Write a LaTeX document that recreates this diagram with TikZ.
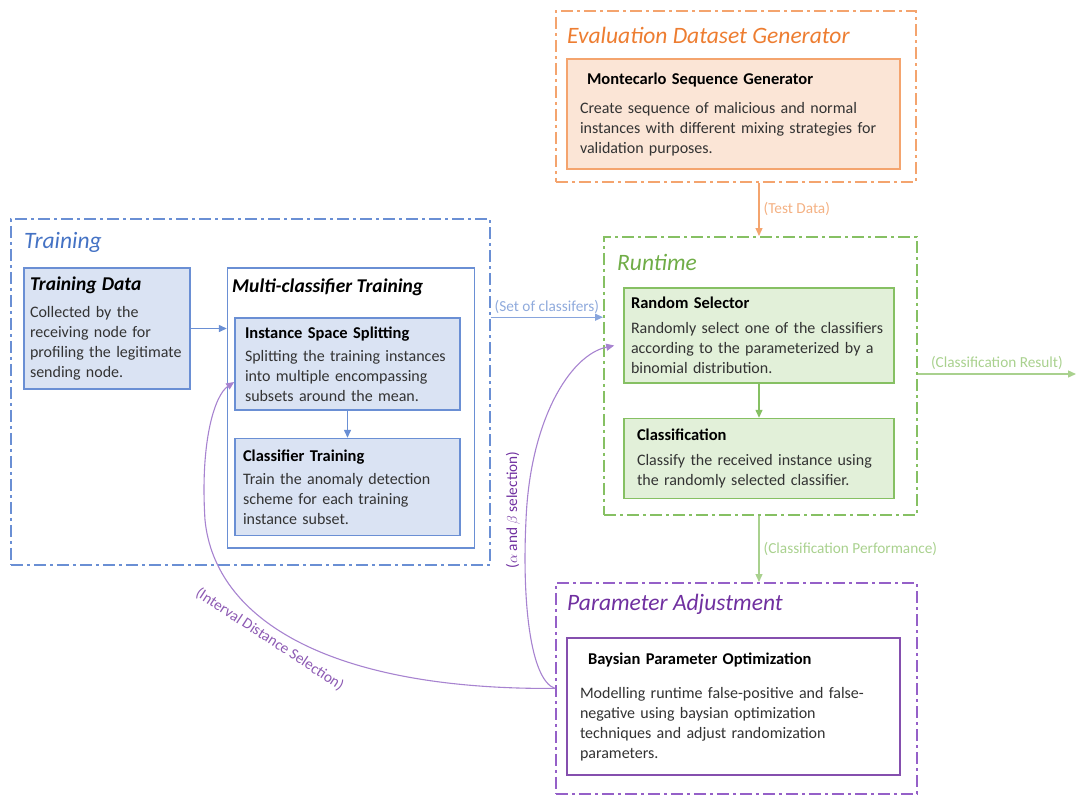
\documentclass[tikz,border=0pt]{standalone}
\usepackage{fontspec}
\setmainfont{Carlito}
\usepackage{xcolor}
\usepackage{tikz}
\usetikzlibrary{arrows.meta,positioning}

\definecolor{trnblue}{HTML}{4472C4}
\definecolor{trnline}{HTML}{6A8FD4}
\definecolor{trnfill}{HTML}{DAE3F3}
\definecolor{trnlbl}{HTML}{8FAADC}
\definecolor{evlorange}{HTML}{ED7D31}
\definecolor{evlline}{HTML}{F4A46E}
\definecolor{evlfill}{HTML}{FBE5D6}
\definecolor{evllbl}{HTML}{F4B183}
\definecolor{rungreen}{HTML}{70AD47}
\definecolor{runline}{HTML}{86C063}
\definecolor{runfill}{HTML}{E2F0D9}
\definecolor{runlbl}{HTML}{A9D18E}
\definecolor{parpurple}{HTML}{7030A0}
\definecolor{parline}{HTML}{9560C8}
\definecolor{parcurve}{HTML}{A783D0}
\definecolor{bodytxt}{HTML}{333333}

\tikzset{
  grp/.style   = {rectangle, line width=1.8pt, dash pattern=on 12pt off 4pt on 3pt off 4pt,
                  anchor=north west, inner sep=0pt},
  ttl/.style   = {anchor=west, inner sep=0pt, font=\fontsize{23.5}{26}\selectfont\itshape},
  blk/.style   = {rectangle, line width=1.6pt, align=left, text=bodytxt,
                  font=\fontsize{16}{20}\selectfont, inner ysep=3pt},
  blkb/.style  = {blk, draw=trnline, fill=trnfill},
  blkg/.style  = {blk, draw=runline, fill=runfill},
  blko/.style  = {blk, draw=evlline, fill=evlfill},
  blkp/.style  = {blk, draw=parpurple!85, fill=white, line width=2.4pt},
  fl/.style    = {-{Triangle[length=8pt,width=7pt]}, line width=1.3pt},
  lbl/.style   = {inner sep=2pt, font=\fontsize{15.3}{17}\selectfont},
}

\begin{document}
\begin{tikzpicture}[x=1pt, y=-1pt, node distance=27pt]
  \useasboundingbox (0,0) rectangle (1076,796);

  % evaluation data
  \node[grp, draw=evlline, minimum width=360pt, minimum height=171pt] (eval) at (555,10) {};
  \node[ttl, text=evlorange] (evalttl) at (567,35) {Evaluation Dataset Generator};
  \node[blko, text width=307pt, inner xsep=13pt, minimum height=110pt] (mcs) at (733.5,114)
    {\hspace*{7pt}\textcolor{black}{\fontsize{16.5}{20}\selectfont\bfseries Montecarlo Sequence Generator}\\[9pt]
     Create sequence of malicious and normal\\ instances with different mixing strategies for\\ validation purposes.};

  % training side
  \node[grp, draw=trnline, minimum width=479pt, minimum height=346pt] (train) at (10,218) {};
  \node[ttl, text=trnblue] (trainttl) at (24,242) {Training};
  \node[blkb, text width=154pt, inner xsep=6pt, minimum height=121pt] (tdata) at (107,328.5)
    {\textcolor{black}{\fontsize{19.5}{22}\selectfont\bfseries\itshape Training Data}\\[7pt]
     Collected by the\\ receiving node for\\ profiling the legitimate\\ sending node.};
  \node[blk, draw=trnline, fill=white, minimum width=247pt, minimum height=280pt,
        right=36pt of tdata.north east, anchor=north west] (multi) {};
  \node[anchor=west, inner sep=0pt, font=\fontsize{19.5}{22}\selectfont\bfseries\itshape]
    (multittl) at (232,287) {Multi-classifier Training};
  \node[blkb, text width=205pt, inner xsep=10pt, minimum height=92pt] (iss) at (347.5,364)
    {\textcolor{black}{\fontsize{16.5}{20}\selectfont\bfseries Instance Space Splitting}\\[3pt]
     Splitting the training instances\\ into multiple encompassing\\ subsets around the mean.};
  \node[blkb, text width=209pt, inner xsep=8pt, minimum height=97pt, below=of iss] (ctrain)
    {\textcolor{black}{\fontsize{16.5}{20}\selectfont\bfseries Classifier Training}\\[3pt]
     Train the anomaly detection\\ scheme for each training\\ instance subset.};

  % runtime
  \node[grp, draw=runline, minimum width=313pt, minimum height=278pt] (runtime) at (603,236) {};
  \node[ttl, text=rungreen] (runttl) at (617,262) {Runtime};
  \node[blkg, text width=256pt, inner xsep=7pt, minimum height=95pt] (rsel) at (759,335.5)
    {\textcolor{black}{\fontsize{16.5}{20}\selectfont\bfseries Random Selector}\\[5pt]
     Randomly select one of the classifiers\\ according to the parameterized by a\\ binomial distribution.};
  \node[blkg, text width=244pt, inner xsep=13pt, minimum height=80pt, below=34pt of rsel] (cls)
    {\textcolor{black}{\fontsize{16.5}{20}\selectfont\bfseries Classification}\\[5pt]
     Classify the received instance using\\ the randomly selected classifier.};

  % parameter adjustment
  \node[grp, draw=parline, minimum width=361pt, minimum height=211pt] (param) at (555,582) {};
  \node[ttl, text=parpurple] (parttl) at (567,604) {Parameter Adjustment};
  \node[blkp, text width=307pt, inner xsep=13pt, minimum height=137pt] (bpo) at (733.5,706.5)
    {\hspace*{8pt}\textcolor{black}{\fontsize{16.5}{20}\selectfont\bfseries Baysian Parameter Optimization}\\[14pt]
     Modelling runtime false-positive and false-\\ negative using baysian optimization\\
     techniques and adjust randomization\\ parameters.};

  \coordinate (resend) at (1076,374);

  % connectors
  \draw[fl, trnline] (tdata.east) -- (tdata.east -| multi.west);
  \draw[fl, trnline] (iss) -- (ctrain);
  \draw[fl, trnline!80] (train.east |- iss.north) --
    node[lbl, above=1pt, text=trnlbl] (setlbl) {(Set of classifers)} (runtime.west |- iss.north);
  \draw[fl, evlline] (rsel.north |- eval.south) --
    node[lbl, right=2pt, text=evllbl] (testlbl) {(Test Data)} (rsel.north |- runtime.north);
  \draw[fl, runline] (rsel) -- (cls);
  \draw[fl, runlbl] (cls.south |- runtime.south) --
    node[lbl, right=2pt, text=runlbl] (perflbl) {(Classification Performance)} (cls.south |- param.north);
  \draw[fl, runlbl] (runtime.east |- resend) --
    node[lbl, above=2pt, text=runlbl] (reslbl) {(Classification Result)} (resend);

  % feedback from the optimizer
  \draw[fl, parcurve, line width=1.1pt] (param.west) .. controls (330,690) and (215,620) .. (205,520)
    node[lbl, pos=0.57, sloped, below=3pt, text=parpurple!80] (intlbl) {(Interval Distance Selection)}
    .. controls (200,440) and (215,395) .. ([yshift=-18pt]iss.west);
  \draw[fl, parcurve, line width=1.1pt] (param.west) .. controls (530,680) and (522,600) .. (526,520)
    .. controls (530,420) and (570,355) .. ([xshift=-9pt,yshift=-10pt]rsel.west);
  \node[lbl, rotate=90, text=parpurple] (ablbl) at (513,510) {($\alpha$ and $\beta$ selection)};

\end{tikzpicture}
\end{document}
